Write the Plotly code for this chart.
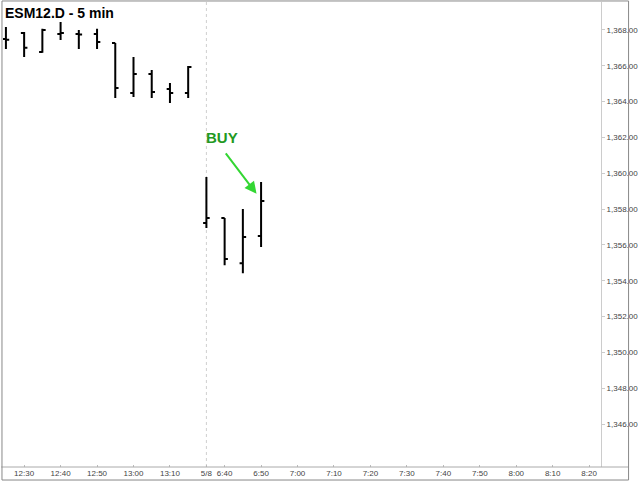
import plotly.graph_objects as go

# ---- data ----
bar_times = ["12:25", "12:30", "12:35", "12:40", "12:45", "12:50", "12:55",
             "13:00", "13:05", "13:10", "13:15", "6:35", "6:40", "6:45", "6:50"]
opens = [1367.50, 1367.83, 1366.77, 1367.78, 1367.78, 1367.78, 1367.27,
         1364.48, 1365.54, 1364.70, 1364.48, 1357.22, 1357.50, 1354.98, 1356.49]
highs = [1368.17, 1367.89, 1368.06, 1368.45, 1368.00, 1368.06, 1367.27,
         1366.49, 1365.77, 1365.04, 1365.99, 1359.79, 1357.50, 1358.00, 1359.51]
lows = [1366.94, 1366.49, 1366.72, 1367.44, 1366.94, 1366.94, 1364.20,
        1364.26, 1364.20, 1363.92, 1364.20, 1356.94, 1354.87, 1354.42, 1355.88]
closes = [1367.45, 1367.00, 1368.00, 1367.83, 1367.75, 1367.33, 1364.76,
          1365.54, 1364.54, 1364.48, 1365.93, 1357.50, 1355.21, 1356.44, 1358.45]

tick_labels = ["12:30", "12:40", "12:50", "13:00", "13:10", "5/8", "6:40", "6:50",
               "7:00", "7:10", "7:20", "7:30", "7:40", "7:50", "8:00", "8:10", "8:20"]
tick_slots = [1, 3, 5, 7, 9, 11, 12, 14, 16, 18, 20, 22, 24, 26, 28, 30, 32]
price_ticks = [1346, 1348, 1350, 1352, 1354, 1356, 1358, 1360, 1362, 1364, 1366, 1368]

session_break_slot = 11
signal_text = "BUY"
signal_text_pos = (11.84, 1361.97)
signal_arrow_tail = (12.0, 1361.19)
signal_arrow_head = (13.75, 1358.85)

x = list(range(len(bar_times)))

fig = go.Figure(go.Ohlc(
    x=x, open=opens, high=highs, low=lows, close=closes,
    increasing=dict(line=dict(color="black", width=2)),
    decreasing=dict(line=dict(color="black", width=2)),
    tickwidth=0.18, hoverinfo="skip", text=bar_times,
))

font_family = "Liberation Sans, Arial, sans-serif"

fig.update_layout(
    width=640, height=482,
    margin=dict(l=3, r=30, t=2, b=15),
    paper_bgcolor="white", plot_bgcolor="white",
    showlegend=False,
    font=dict(family=font_family),
    xaxis=dict(
        range=[-0.16, 32.65], tickmode="array", tickvals=tick_slots, ticktext=tick_labels,
        tickfont=dict(size=8, color="#444"), showgrid=False, zeroline=False,
        showline=False, ticks="inside", ticklen=2, tickcolor="#bbb",
        rangeslider=dict(visible=False), fixedrange=True,
    ),
    yaxis=dict(
        side="right", range=[1343.60, 1369.56], tickmode="array", tickvals=price_ticks,
        tickformat=",.2f", tickfont=dict(size=8, color="#444"), showgrid=False,
        zeroline=False, showline=True, linecolor="#ccc", linewidth=1,
        ticks="outside", ticklen=3, tickcolor="#ccc", fixedrange=True,
    ),
    shapes=[
        dict(type="line", xref="x", yref="paper", x0=session_break_slot, x1=session_break_slot,
             y0=0, y1=1, line=dict(color="#cfcfcf", width=1, dash="dot"), layer="below"),
        dict(type="line", xref="paper", yref="paper", x0=-0.003, x1=1.046, y0=0, y1=0,
             line=dict(color="#aaa", width=1)),
        dict(type="rect", xref="paper", yref="paper", x0=-0.0017, x1=1.0461,
             y0=-0.028, y1=1.0022, line=dict(color="#888", width=1)),
    ],
    annotations=[
        dict(text="<b>ESM12.D - 5 min</b>", xref="paper", yref="paper", x=0.0, y=0.998,
             xanchor="left", yanchor="top", showarrow=False,
             font=dict(size=14, color="black", family=font_family)),
        dict(text="<b>" + signal_text + "</b>", xref="x", yref="y",
             x=signal_text_pos[0], y=signal_text_pos[1], showarrow=False,
             font=dict(size=15, color="#229922", family=font_family)),
        dict(text="", xref="x", yref="y", axref="x", ayref="y",
             x=signal_arrow_head[0], y=signal_arrow_head[1],
             ax=signal_arrow_tail[0], ay=signal_arrow_tail[1],
             showarrow=True, arrowhead=2, arrowsize=1.2, arrowwidth=2,
             arrowcolor="#33d633", standoff=0, startstandoff=0),
    ],
)

fig.write_html("out.html", config={"displayModeBar": False},
               post_script="document.body.style.margin='0';document.body.style.overflow='hidden';")
